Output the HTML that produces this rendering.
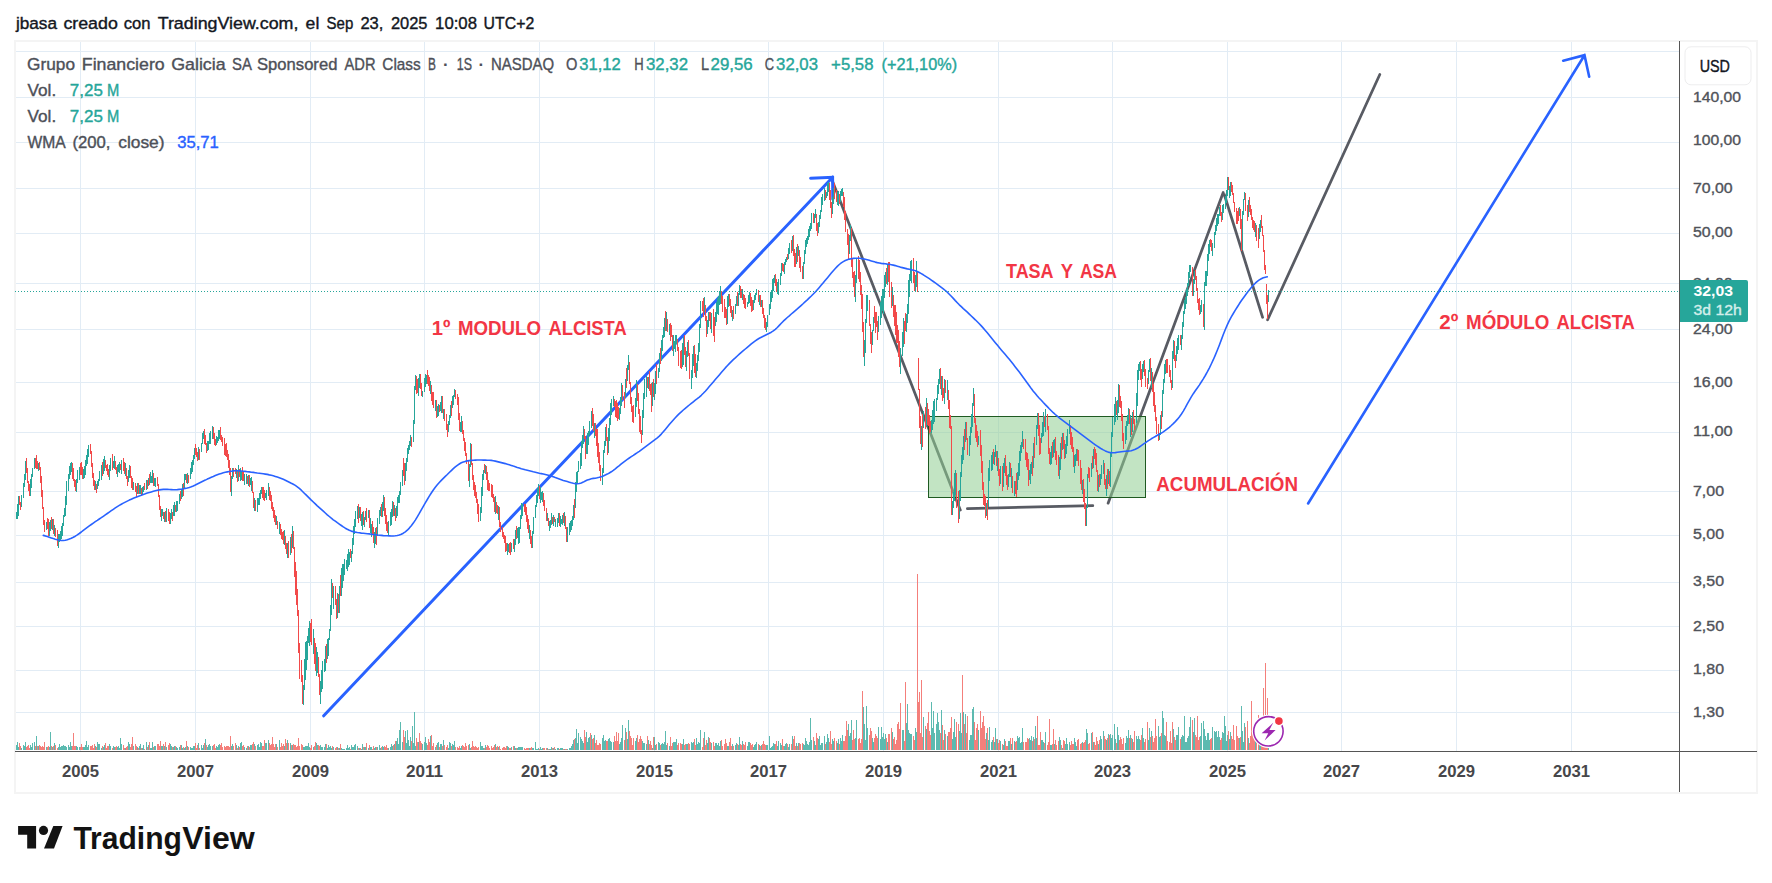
<!DOCTYPE html>
<html lang="es"><head><meta charset="utf-8"><title>GGAL - TradingView</title>
<style>html,body{margin:0;padding:0;background:#fff;}body{width:1772px;height:883px;overflow:hidden;font-family:'Liberation Sans', sans-serif;}svg{display:block}text{white-space:pre}</style>
</head><body>
<svg width="1772" height="883" viewBox="0 0 1772 883" font-family="'Liberation Sans', sans-serif">
<rect x="0" y="0" width="1772" height="883" fill="#fff"/>
<rect x="15" y="41" width="1742" height="752" fill="none" stroke="#f4f4f4" stroke-width="2"/>
<path d="M80.5 42V751M195.5 42V751M310.5 42V751M424.5 42V751M539.5 42V751M654.5 42V751M768.5 42V751M883.5 42V751M998.5 42V751M1112.5 42V751M1227.5 42V751M1341.5 42V751M1456.5 42V751M1571.5 42V751M16 51.5H1679M16 97.5H1679M16 142.5H1679M16 188.5H1679M16 233.5H1679M16 283.5H1679M16 329.5H1679M16 382.5H1679M16 432.5H1679M16 491.5H1679M16 535.5H1679M16 582.5H1679M16 626.5H1679M16 670.5H1679M16 712.5H1679" stroke="#e2ecf5" stroke-width="1" fill="none" shape-rendering="crispEdges"/>
<path d="M832.6 181.5L960.3 510M967.4 508.6L1092.8 505.7M1108.1 503.2L1223.2 192.5M1224.3 194.5L1262.6 317.3M1267.6 319.8L1379.8 74.5" stroke="#585b63" stroke-width="2.75" fill="none" stroke-linecap="round"/>
<rect x="928.5" y="416.5" width="217" height="81" fill="#90ce92" fill-opacity="0.55" stroke="#1f5a22" stroke-width="1"/>
<path d="M323.7 715.8L832.6 177.2M832.8 199.2L832.6 177.2L810.6 178.2" stroke="#2962ff" stroke-width="3.0" fill="none" stroke-linecap="round" stroke-linejoin="miter"/>
<path d="M1308.1 503.5L1584.5 55.2M1589.2 76.7L1584.5 55.2L1563.2 60.7" stroke="#2962ff" stroke-width="2.6" fill="none" stroke-linecap="round" stroke-linejoin="miter"/>
<text y="334.8" font-size="20"><tspan x="431.8" textLength="18.6" lengthAdjust="spacingAndGlyphs" fill="#f23645" font-weight="bold">1º</tspan> <tspan x="457.9" textLength="83.1" lengthAdjust="spacingAndGlyphs" fill="#f23645" font-weight="bold">MODULO</tspan> <tspan x="548.5" textLength="78.2" lengthAdjust="spacingAndGlyphs" fill="#f23645" font-weight="bold">ALCISTA</tspan></text>
<text y="277.8" font-size="20"><tspan x="1006.0" textLength="47.6" lengthAdjust="spacingAndGlyphs" fill="#f23645" font-weight="bold">TASA</tspan> <tspan x="1060.7" textLength="12.3" lengthAdjust="spacingAndGlyphs" fill="#f23645" font-weight="bold">Y</tspan> <tspan x="1079.9" textLength="37.1" lengthAdjust="spacingAndGlyphs" fill="#f23645" font-weight="bold">ASA</tspan></text>
<text y="490.5" font-size="20"><tspan x="1156.3" textLength="141.7" lengthAdjust="spacingAndGlyphs" fill="#f23645" font-weight="bold">ACUMULACIÓN</tspan></text>
<text y="328.8" font-size="20"><tspan x="1439.3" textLength="19.0" lengthAdjust="spacingAndGlyphs" fill="#f23645" font-weight="bold">2º</tspan> <tspan x="1466.0" textLength="83.4" lengthAdjust="spacingAndGlyphs" fill="#f23645" font-weight="bold">MÓDULO</tspan> <tspan x="1556.6" textLength="78.2" lengthAdjust="spacingAndGlyphs" fill="#f23645" font-weight="bold">ALCISTA</tspan></text>
<path d="M16.5 750V744.6M17.5 750V742.0M18.5 750V746.8M21.5 750V747.7M23.5 750V745.0M24.5 750V746.2M25.5 750V742.0M30.5 750V744.9M31.5 750V747.2M32.5 750V742.8M34.5 750V742.0M36.5 750V736.0M38.5 750V745.6M46.5 750V746.8M49.5 750V747.4M50.5 750V732.0M52.5 750V746.6M54.5 750V743.3M58.5 750V746.5M59.5 750V744.4M60.5 750V746.8M61.5 750V745.7M62.5 750V745.9M63.5 750V744.9M64.5 750V746.1M65.5 750V746.1M66.5 750V747.0M68.5 750V745.2M69.5 750V747.1M70.5 750V741.8M71.5 750V745.9M76.5 750V745.9M77.5 750V746.9M79.5 750V747.1M83.5 750V746.5M84.5 750V746.5M85.5 750V744.5M86.5 750V741.0M87.5 750V747.1M88.5 750V744.9M95.5 750V745.5M97.5 750V742.3M98.5 750V744.2M99.5 750V743.5M101.5 750V747.6M103.5 750V746.6M104.5 750V744.7M109.5 750V744.0M110.5 750V746.0M113.5 750V746.2M114.5 750V747.3M117.5 750V746.7M118.5 750V745.5M119.5 750V747.8M120.5 750V738.0M121.5 750V743.5M125.5 750V748.3M128.5 750V741.5M129.5 750V743.5M133.5 750V746.1M137.5 750V747.0M139.5 750V746.3M140.5 750V744.3M142.5 750V748.0M143.5 750V745.3M146.5 750V742.3M148.5 750V745.0M150.5 750V747.9M151.5 750V747.5M152.5 750V741.9M154.5 750V746.4M155.5 750V745.9M161.5 750V746.3M162.5 750V745.8M164.5 750V746.1M166.5 750V747.3M170.5 750V743.7M171.5 750V745.7M173.5 750V747.1M174.5 750V746.4M176.5 750V746.5M177.5 750V747.8M179.5 750V747.1M181.5 750V744.6M182.5 750V747.7M184.5 750V747.9M185.5 750V746.8M187.5 750V745.9M190.5 750V746.8M191.5 750V747.5M192.5 750V748.0M193.5 750V746.0M194.5 750V746.4M198.5 750V743.1M201.5 750V744.7M202.5 750V747.8M203.5 750V744.9M205.5 750V739.0M207.5 750V746.8M208.5 750V745.3M209.5 750V743.5M210.5 750V746.1M212.5 750V746.0M216.5 750V745.6M217.5 750V746.7M218.5 750V744.8M219.5 750V743.6M231.5 750V746.3M232.5 750V744.4M236.5 750V745.1M238.5 750V745.8M240.5 750V743.4M241.5 750V742.1M244.5 750V747.4M246.5 750V748.1M248.5 750V745.8M250.5 750V745.2M251.5 750V744.8M254.5 750V743.6M257.5 750V745.1M258.5 750V744.1M259.5 750V746.9M260.5 750V742.1M261.5 750V743.3M265.5 750V743.4M266.5 750V743.1M268.5 750V740.4M276.5 750V744.0M279.5 750V739.7M284.5 750V746.2M287.5 750V739.9M290.5 750V743.4M292.5 750V745.4M303.5 750V746.7M304.5 750V746.6M305.5 750V746.4M306.5 750V745.8M307.5 750V745.9M308.5 750V743.1M309.5 750V747.1M313.5 750V746.5M316.5 750V743.1M317.5 750V745.2M320.5 750V744.8M321.5 750V747.3M322.5 750V747.4M324.5 750V747.3M325.5 750V744.1M327.5 750V747.6M328.5 750V745.3M329.5 750V747.3M330.5 750V745.7M331.5 750V747.5M333.5 750V747.3M337.5 750V747.0M339.5 750V748.3M341.5 750V747.5M342.5 750V748.6M343.5 750V748.8M344.5 750V749.0M346.5 750V747.7M347.5 750V745.0M348.5 750V748.4M349.5 750V747.4M351.5 750V745.4M352.5 750V746.6M353.5 750V746.6M354.5 750V744.9M355.5 750V744.3M357.5 750V745.5M359.5 750V748.2M361.5 750V748.5M362.5 750V743.8M364.5 750V746.8M365.5 750V746.7M368.5 750V747.5M370.5 750V746.5M371.5 750V747.0M374.5 750V747.6M375.5 750V747.4M377.5 750V746.7M379.5 750V745.0M380.5 750V747.5M382.5 750V746.4M383.5 750V746.7M388.5 750V748.1M390.5 750V746.8M391.5 750V743.8M392.5 750V745.9M394.5 750V743.7M396.5 750V741.3M397.5 750V738.2M398.5 750V744.3M399.5 750V730.0M400.5 750V722.0M402.5 750V742.2M405.5 750V731.3M406.5 750V743.4M407.5 750V730.3M408.5 750V739.6M409.5 750V745.5M410.5 750V736.6M413.5 750V743.4M414.5 750V712.0M415.5 750V745.6M418.5 750V741.8M422.5 750V744.0M424.5 750V741.6M425.5 750V737.1M426.5 750V743.4M430.5 750V736.0M435.5 750V747.0M437.5 750V743.1M438.5 750V741.9M440.5 750V743.5M441.5 750V743.7M443.5 750V740.1M448.5 750V747.8M449.5 750V741.6M450.5 750V743.3M452.5 750V744.3M453.5 750V744.5M454.5 750V740.5M460.5 750V747.6M461.5 750V745.9M469.5 750V743.8M470.5 750V747.5M480.5 750V742.0M481.5 750V746.3M482.5 750V745.5M483.5 750V748.2M485.5 750V745.2M495.5 750V743.5M498.5 750V746.7M507.5 750V745.9M508.5 750V747.3M511.5 750V747.3M514.5 750V745.5M515.5 750V747.9M517.5 750V748.2M518.5 750V746.5M519.5 750V747.4M520.5 750V747.4M521.5 750V747.2M522.5 750V747.4M529.5 750V748.2M532.5 750V748.3M533.5 750V747.8M535.5 750V742.0M536.5 750V748.6M537.5 750V748.9M538.5 750V748.4M540.5 750V747.4M541.5 750V748.8M542.5 750V748.4M547.5 750V747.5M549.5 750V748.5M550.5 750V748.8M551.5 750V747.1M553.5 750V748.0M555.5 750V748.6M557.5 750V748.3M558.5 750V748.1M560.5 750V747.5M561.5 750V747.9M562.5 750V747.7M564.5 750V748.7M567.5 750V749.0M569.5 750V748.4M570.5 750V748.1M571.5 750V746.3M572.5 750V744.2M573.5 750V739.6M575.5 750V738.3M576.5 750V729.3M577.5 750V742.6M578.5 750V733.0M580.5 750V736.5M581.5 750V739.4M582.5 750V740.6M583.5 750V743.1M586.5 750V731.9M587.5 750V742.0M588.5 750V737.6M589.5 750V737.4M591.5 750V734.8M594.5 750V735.4M602.5 750V737.5M603.5 750V734.9M604.5 750V740.8M605.5 750V740.2M608.5 750V739.2M609.5 750V738.2M610.5 750V741.4M611.5 750V742.4M613.5 750V741.6M619.5 750V743.5M620.5 750V742.1M621.5 750V737.6M622.5 750V725.0M625.5 750V728.0M627.5 750V738.5M628.5 750V720.0M635.5 750V741.4M636.5 750V738.0M642.5 750V741.2M643.5 750V743.4M644.5 750V742.5M646.5 750V744.1M648.5 750V740.4M652.5 750V747.6M654.5 750V737.1M655.5 750V745.4M658.5 750V741.5M659.5 750V743.4M661.5 750V743.9M662.5 750V743.2M663.5 750V744.0M664.5 750V742.0M665.5 750V731.0M666.5 750V744.5M669.5 750V746.1M673.5 750V741.8M674.5 750V741.6M675.5 750V742.1M676.5 750V738.5M682.5 750V744.4M683.5 750V738.7M686.5 750V743.8M687.5 750V743.7M691.5 750V742.2M692.5 750V742.9M693.5 750V742.0M696.5 750V737.6M697.5 750V744.4M698.5 750V741.5M699.5 750V743.0M700.5 750V730.0M704.5 750V732.0M707.5 750V743.4M708.5 750V736.8M711.5 750V743.0M715.5 750V743.3M716.5 750V743.4M717.5 750V744.8M718.5 750V743.1M719.5 750V746.4M720.5 750V741.3M727.5 750V745.9M728.5 750V745.8M732.5 750V743.9M735.5 750V744.6M736.5 750V743.3M738.5 750V745.4M739.5 750V737.3M742.5 750V741.1M747.5 750V746.1M748.5 750V742.3M749.5 750V741.5M753.5 750V747.0M754.5 750V744.6M755.5 750V743.7M756.5 750V742.2M759.5 750V745.2M761.5 750V744.5M766.5 750V744.5M767.5 750V745.2M769.5 750V736.0M770.5 750V747.5M771.5 750V746.8M772.5 750V746.3M773.5 750V743.0M774.5 750V744.3M777.5 750V746.0M778.5 750V740.8M780.5 750V743.0M781.5 750V745.4M784.5 750V746.0M785.5 750V744.3M786.5 750V742.8M788.5 750V747.2M789.5 750V744.4M792.5 750V736.4M796.5 750V742.7M798.5 750V743.0M803.5 750V744.0M804.5 750V744.5M805.5 750V737.6M806.5 750V741.2M807.5 750V743.6M808.5 750V744.6M809.5 750V742.1M810.5 750V718.0M811.5 750V739.6M814.5 750V740.8M815.5 750V744.8M818.5 750V738.8M819.5 750V736.3M820.5 750V745.2M821.5 750V742.6M822.5 750V742.9M824.5 750V736.4M826.5 750V742.1M827.5 750V734.1M828.5 750V738.4M832.5 750V738.7M833.5 750V741.2M837.5 750V742.8M838.5 750V739.2M840.5 750V737.5M841.5 750V740.6M842.5 750V734.6M848.5 750V724.0M849.5 750V736.4M850.5 750V733.0M851.5 750V720.0M855.5 750V738.0M856.5 750V720.4M863.5 750V707.0M864.5 750V723.8M865.5 750V739.7M866.5 750V706.0M867.5 750V728.0M872.5 750V737.7M873.5 750V741.5M878.5 750V726.6M880.5 750V739.1M881.5 750V727.4M882.5 750V736.5M883.5 750V733.2M884.5 750V739.4M885.5 750V734.0M887.5 750V741.7M892.5 750V732.3M902.5 750V729.8M903.5 750V730.1M906.5 750V722.5M907.5 750V704.0M908.5 750V729.9M909.5 750V733.3M910.5 750V733.5M911.5 750V734.2M915.5 750V728.3M916.5 750V732.4M923.5 750V717.1M926.5 750V729.4M931.5 750V702.0M932.5 750V727.7M933.5 750V711.1M934.5 750V732.8M936.5 750V724.4M937.5 750V713.0M938.5 750V721.8M939.5 750V730.0M941.5 750V710.2M944.5 750V729.7M947.5 750V736.0M952.5 750V739.0M953.5 750V731.9M954.5 750V719.1M955.5 750V736.7M959.5 750V731.3M960.5 750V713.0M961.5 750V733.3M963.5 750V712.0M965.5 750V713.5M969.5 750V740.4M970.5 750V734.6M971.5 750V735.4M972.5 750V709.2M973.5 750V707.0M978.5 750V729.5M986.5 750V733.3M988.5 750V740.0M989.5 750V727.0M991.5 750V741.5M992.5 750V739.5M994.5 750V742.3M995.5 750V728.2M997.5 750V738.6M1000.5 750V741.0M1003.5 750V744.5M1004.5 750V739.0M1008.5 750V741.3M1009.5 750V740.5M1011.5 750V744.0M1014.5 750V741.4M1017.5 750V736.1M1018.5 750V738.2M1019.5 750V736.7M1020.5 750V742.7M1021.5 750V741.5M1022.5 750V728.0M1029.5 750V737.7M1030.5 750V740.3M1031.5 750V736.2M1033.5 750V737.0M1036.5 750V738.2M1041.5 750V740.1M1042.5 750V740.0M1043.5 750V742.1M1045.5 750V732.1M1050.5 750V744.8M1051.5 750V745.1M1054.5 750V743.6M1059.5 750V736.9M1060.5 750V739.6M1062.5 750V747.6M1065.5 750V744.0M1066.5 750V737.7M1067.5 750V743.5M1069.5 750V742.1M1074.5 750V738.4M1075.5 750V741.6M1076.5 750V745.6M1082.5 750V742.0M1086.5 750V729.0M1087.5 750V732.6M1091.5 750V732.9M1093.5 750V741.7M1098.5 750V744.0M1100.5 750V735.9M1101.5 750V738.7M1103.5 750V730.6M1106.5 750V740.4M1108.5 750V733.6M1110.5 750V733.8M1111.5 750V737.9M1112.5 750V734.8M1114.5 750V724.0M1115.5 750V738.8M1117.5 750V726.7M1118.5 750V734.8M1125.5 750V742.7M1126.5 750V736.3M1127.5 750V737.8M1128.5 750V730.3M1130.5 750V735.1M1132.5 750V738.7M1136.5 750V735.8M1137.5 750V739.3M1138.5 750V735.5M1139.5 750V738.5M1142.5 750V728.3M1143.5 750V737.6M1148.5 750V739.7M1149.5 750V727.9M1151.5 750V731.2M1158.5 750V726.0M1159.5 750V737.1M1160.5 750V736.0M1162.5 750V711.0M1163.5 750V717.8M1164.5 750V735.2M1165.5 750V736.1M1173.5 750V729.1M1176.5 750V734.7M1177.5 750V734.7M1178.5 750V726.7M1181.5 750V736.8M1182.5 750V735.0M1183.5 750V736.2M1184.5 750V716.0M1185.5 750V742.0M1186.5 750V741.7M1187.5 750V738.1M1188.5 750V735.8M1189.5 750V727.4M1190.5 750V716.5M1193.5 750V731.9M1194.5 750V718.2M1200.5 750V735.8M1201.5 750V722.6M1203.5 750V721.0M1204.5 750V728.7M1205.5 750V736.4M1206.5 750V740.0M1207.5 750V732.6M1208.5 750V733.0M1209.5 750V739.7M1212.5 750V726.9M1214.5 750V730.9M1215.5 750V732.4M1216.5 750V730.6M1217.5 750V736.6M1218.5 750V730.7M1219.5 750V737.2M1222.5 750V732.4M1223.5 750V733.2M1225.5 750V725.7M1226.5 750V741.4M1227.5 750V735.0M1229.5 750V738.6M1230.5 750V731.9M1239.5 750V738.1M1241.5 750V706.0M1242.5 750V731.4M1243.5 750V741.7M1244.5 750V722.9M1248.5 750V738.2M1255.5 750V731.3M1259.5 750V738.3M1260.5 750V730.1M1268.5 750V729.8M412.5 750V726.0M1035.5 750V726.0M1224.5 750V716.0" stroke="#5cbab0" stroke-width="1" fill="none" shape-rendering="crispEdges"/>
<path d="M19.5 750V743.1M20.5 750V745.7M26.5 750V746.6M27.5 750V745.8M28.5 750V745.4M29.5 750V748.0M35.5 750V745.9M37.5 750V745.5M39.5 750V744.5M40.5 750V746.3M41.5 750V747.4M42.5 750V746.1M43.5 750V747.1M44.5 750V741.7M47.5 750V746.8M48.5 750V745.9M51.5 750V746.1M53.5 750V746.2M55.5 750V745.1M57.5 750V747.5M72.5 750V746.2M73.5 750V733.0M74.5 750V746.0M75.5 750V745.7M80.5 750V746.8M81.5 750V743.5M82.5 750V746.7M90.5 750V745.6M91.5 750V746.3M92.5 750V744.9M93.5 750V747.5M94.5 750V744.3M96.5 750V747.2M102.5 750V746.3M105.5 750V743.0M106.5 750V748.0M107.5 750V745.9M108.5 750V746.1M112.5 750V747.5M115.5 750V747.0M116.5 750V745.9M123.5 750V744.7M124.5 750V747.6M126.5 750V747.2M127.5 750V746.4M130.5 750V746.8M131.5 750V743.7M132.5 750V737.0M135.5 750V743.8M136.5 750V745.6M138.5 750V747.6M141.5 750V747.7M144.5 750V748.7M147.5 750V746.8M149.5 750V742.2M153.5 750V746.6M157.5 750V744.4M158.5 750V743.8M159.5 750V746.1M160.5 750V741.0M163.5 750V743.8M165.5 750V742.4M168.5 750V745.4M169.5 750V742.5M172.5 750V747.3M175.5 750V745.7M180.5 750V745.2M183.5 750V746.6M186.5 750V741.4M188.5 750V746.5M195.5 750V742.8M196.5 750V747.8M197.5 750V745.2M199.5 750V748.1M204.5 750V742.7M206.5 750V745.3M213.5 750V745.1M214.5 750V744.2M215.5 750V747.7M220.5 750V745.1M221.5 750V742.9M222.5 750V747.1M224.5 750V746.3M225.5 750V747.0M226.5 750V745.5M227.5 750V745.5M228.5 750V745.9M229.5 750V747.3M230.5 750V736.0M233.5 750V746.0M235.5 750V743.0M237.5 750V747.8M239.5 750V747.4M242.5 750V745.5M243.5 750V744.6M247.5 750V746.3M249.5 750V747.4M252.5 750V744.0M253.5 750V741.5M255.5 750V746.0M262.5 750V745.7M263.5 750V746.3M264.5 750V739.7M269.5 750V743.0M270.5 750V744.8M271.5 750V743.7M272.5 750V737.0M273.5 750V743.6M274.5 750V747.3M275.5 750V744.3M277.5 750V747.3M280.5 750V746.9M281.5 750V742.6M282.5 750V746.0M283.5 750V744.4M285.5 750V739.3M286.5 750V742.6M288.5 750V743.2M291.5 750V744.7M293.5 750V743.6M294.5 750V744.6M295.5 750V745.2M296.5 750V747.0M297.5 750V745.5M298.5 750V738.0M299.5 750V745.7M301.5 750V744.2M302.5 750V745.3M310.5 750V748.1M311.5 750V744.5M314.5 750V746.1M315.5 750V741.5M318.5 750V744.6M319.5 750V746.2M326.5 750V744.3M332.5 750V745.9M335.5 750V747.5M336.5 750V747.2M338.5 750V747.7M340.5 750V744.4M350.5 750V748.6M358.5 750V747.6M360.5 750V748.0M363.5 750V747.2M366.5 750V743.4M369.5 750V745.1M372.5 750V748.5M373.5 750V745.5M376.5 750V746.5M381.5 750V746.6M384.5 750V745.8M385.5 750V747.1M386.5 750V744.8M387.5 750V747.5M393.5 750V745.3M395.5 750V741.2M403.5 750V730.0M404.5 750V737.3M411.5 750V741.2M416.5 750V738.2M417.5 750V741.5M419.5 750V733.0M420.5 750V740.9M421.5 750V743.2M427.5 750V744.7M428.5 750V738.9M429.5 750V742.4M431.5 750V735.3M432.5 750V745.9M433.5 750V743.2M436.5 750V744.9M439.5 750V747.0M442.5 750V745.6M444.5 750V745.4M446.5 750V746.7M447.5 750V744.6M451.5 750V746.1M455.5 750V746.5M457.5 750V747.3M458.5 750V748.0M459.5 750V746.1M462.5 750V744.9M463.5 750V746.4M464.5 750V747.0M465.5 750V743.2M466.5 750V746.0M468.5 750V745.3M471.5 750V747.1M472.5 750V741.2M473.5 750V746.2M474.5 750V747.3M475.5 750V746.4M476.5 750V746.9M477.5 750V747.6M478.5 750V746.7M484.5 750V748.0M486.5 750V747.1M487.5 750V744.5M488.5 750V746.2M489.5 750V748.1M491.5 750V746.0M492.5 750V747.8M493.5 750V746.5M494.5 750V745.0M496.5 750V747.1M497.5 750V746.1M499.5 750V746.1M500.5 750V749.0M502.5 750V747.6M503.5 750V746.9M504.5 750V746.7M505.5 750V748.0M506.5 750V746.3M509.5 750V747.6M510.5 750V747.8M513.5 750V746.0M516.5 750V748.3M524.5 750V747.8M525.5 750V748.5M526.5 750V748.3M527.5 750V747.7M528.5 750V747.5M530.5 750V748.2M531.5 750V746.5M539.5 750V748.6M543.5 750V747.6M544.5 750V748.3M546.5 750V747.8M548.5 750V749.0M552.5 750V748.4M554.5 750V746.8M559.5 750V748.6M563.5 750V748.5M565.5 750V748.7M566.5 750V748.7M574.5 750V738.7M584.5 750V730.0M585.5 750V736.5M592.5 750V738.7M593.5 750V737.8M595.5 750V743.4M596.5 750V739.5M597.5 750V744.8M598.5 750V745.2M599.5 750V742.5M600.5 750V744.3M606.5 750V740.6M607.5 750V740.7M614.5 750V736.0M615.5 750V741.2M616.5 750V732.0M617.5 750V740.6M618.5 750V732.6M624.5 750V740.3M626.5 750V732.0M629.5 750V730.6M630.5 750V735.7M631.5 750V737.9M632.5 750V744.5M633.5 750V738.2M637.5 750V735.4M638.5 750V742.3M639.5 750V738.8M640.5 750V735.6M641.5 750V739.2M647.5 750V736.4M649.5 750V744.3M650.5 750V741.1M651.5 750V744.7M653.5 750V736.6M656.5 750V743.9M660.5 750V744.6M667.5 750V742.6M670.5 750V737.4M671.5 750V746.3M672.5 750V743.0M677.5 750V745.4M678.5 750V743.1M680.5 750V742.6M681.5 750V744.2M684.5 750V744.7M685.5 750V744.3M688.5 750V742.8M689.5 750V743.7M694.5 750V738.8M695.5 750V745.2M702.5 750V746.9M703.5 750V738.0M705.5 750V745.2M706.5 750V740.4M709.5 750V737.9M710.5 750V741.7M713.5 750V741.6M714.5 750V746.2M721.5 750V739.9M722.5 750V746.2M724.5 750V743.5M725.5 750V739.0M726.5 750V742.8M729.5 750V741.6M730.5 750V737.9M731.5 750V746.0M733.5 750V745.5M737.5 750V744.1M740.5 750V744.4M741.5 750V744.5M743.5 750V744.1M744.5 750V744.6M745.5 750V741.7M750.5 750V742.6M751.5 750V744.7M752.5 750V744.3M758.5 750V744.1M760.5 750V745.9M762.5 750V744.1M763.5 750V741.1M764.5 750V744.3M765.5 750V745.3M775.5 750V743.7M776.5 750V740.8M782.5 750V739.4M783.5 750V746.4M787.5 750V744.2M791.5 750V743.9M793.5 750V739.4M794.5 750V736.0M795.5 750V745.8M797.5 750V745.8M799.5 750V742.6M800.5 750V744.4M802.5 750V742.7M813.5 750V736.7M816.5 750V732.9M817.5 750V737.5M825.5 750V744.4M829.5 750V742.0M830.5 750V731.2M831.5 750V744.3M834.5 750V738.3M836.5 750V741.2M839.5 750V743.8M843.5 750V740.5M844.5 750V741.0M845.5 750V736.1M847.5 750V730.4M852.5 750V739.8M853.5 750V730.0M854.5 750V739.1M858.5 750V738.8M859.5 750V738.2M860.5 750V743.0M861.5 750V738.9M862.5 750V691.0M869.5 750V734.6M870.5 750V727.7M871.5 750V731.0M874.5 750V738.4M875.5 750V733.7M876.5 750V735.7M877.5 750V737.7M886.5 750V738.0M888.5 750V734.1M889.5 750V734.3M891.5 750V728.2M893.5 750V739.1M894.5 750V737.4M895.5 750V743.7M896.5 750V739.6M897.5 750V724.3M898.5 750V722.2M899.5 750V729.0M900.5 750V703.0M904.5 750V741.2M905.5 750V682.0M913.5 750V736.0M914.5 750V740.2M917.5 750V574.0M918.5 750V702.0M919.5 750V692.0M920.5 750V732.9M921.5 750V680.0M922.5 750V737.4M925.5 750V725.5M927.5 750V722.5M928.5 750V711.7M929.5 750V731.3M930.5 750V734.7M940.5 750V732.7M942.5 750V724.8M943.5 750V739.7M945.5 750V734.3M948.5 750V732.2M949.5 750V731.5M950.5 750V727.5M951.5 750V717.0M956.5 750V722.0M958.5 750V723.6M962.5 750V675.0M964.5 750V723.9M966.5 750V733.2M967.5 750V716.0M974.5 750V721.6M975.5 750V740.3M976.5 750V728.1M977.5 750V724.1M980.5 750V711.0M981.5 750V727.9M982.5 750V722.1M983.5 750V716.3M984.5 750V726.3M985.5 750V739.3M987.5 750V727.8M993.5 750V736.6M996.5 750V739.4M998.5 750V742.5M999.5 750V739.8M1002.5 750V744.3M1005.5 750V740.5M1006.5 750V746.4M1007.5 750V745.7M1010.5 750V737.8M1012.5 750V737.9M1015.5 750V742.1M1016.5 750V740.9M1023.5 750V742.4M1025.5 750V742.0M1026.5 750V742.2M1027.5 750V737.8M1028.5 750V739.1M1032.5 750V740.5M1034.5 750V739.2M1037.5 750V716.0M1038.5 750V744.5M1039.5 750V745.0M1040.5 750V731.9M1044.5 750V743.0M1047.5 750V744.6M1048.5 750V742.0M1049.5 750V719.0M1052.5 750V744.0M1053.5 750V729.0M1055.5 750V739.6M1056.5 750V745.1M1058.5 750V741.2M1061.5 750V745.2M1063.5 750V739.7M1064.5 750V741.0M1070.5 750V744.9M1071.5 750V741.4M1072.5 750V743.5M1073.5 750V743.7M1077.5 750V739.9M1078.5 750V739.3M1080.5 750V744.3M1081.5 750V743.2M1083.5 750V742.8M1084.5 750V741.7M1085.5 750V739.8M1088.5 750V743.9M1089.5 750V743.4M1092.5 750V732.4M1094.5 750V742.4M1095.5 750V744.6M1096.5 750V737.3M1097.5 750V741.2M1099.5 750V740.3M1104.5 750V735.7M1105.5 750V738.8M1107.5 750V737.6M1109.5 750V735.4M1116.5 750V742.6M1119.5 750V739.6M1120.5 750V736.5M1121.5 750V738.7M1122.5 750V743.5M1123.5 750V738.3M1129.5 750V737.7M1131.5 750V738.4M1133.5 750V742.3M1134.5 750V730.8M1140.5 750V739.7M1141.5 750V735.0M1144.5 750V742.0M1145.5 750V739.0M1147.5 750V722.0M1150.5 750V737.1M1152.5 750V736.3M1153.5 750V742.1M1154.5 750V737.7M1155.5 750V718.6M1156.5 750V736.2M1161.5 750V733.3M1166.5 750V722.0M1167.5 750V740.9M1169.5 750V741.9M1170.5 750V730.7M1171.5 750V742.6M1172.5 750V722.0M1174.5 750V736.5M1175.5 750V740.2M1180.5 750V738.5M1192.5 750V720.2M1195.5 750V735.1M1196.5 750V737.2M1197.5 750V716.1M1198.5 750V739.6M1199.5 750V736.6M1210.5 750V738.5M1211.5 750V738.2M1220.5 750V740.2M1221.5 750V737.6M1228.5 750V731.0M1231.5 750V735.9M1232.5 750V739.3M1233.5 750V724.7M1234.5 750V740.2M1236.5 750V725.8M1237.5 750V735.8M1238.5 750V738.4M1240.5 750V737.4M1245.5 750V726.6M1247.5 750V721.0M1249.5 750V742.9M1250.5 750V736.3M1251.5 750V701.0M1252.5 750V730.4M1253.5 750V735.6M1254.5 750V732.9M1256.5 750V740.1M1258.5 750V714.6M1261.5 750V722.8M1262.5 750V736.5M1263.5 750V688.0M1264.5 750V716.0M1265.5 750V663.0M1266.5 750V722.6M1267.5 750V698.0M590.5 750V733.0M846.5 750V721.0" stroke="#f47f7b" stroke-width="1" fill="none" shape-rendering="crispEdges"/>
<path d="M16.5 512.4V519.0M17.5 504.2V519.2M18.5 495.8V516.1M21.5 495.2V507.0M23.5 482.9V498.1M24.5 474.2V486.9M25.5 460.5V479.8M30.5 479.2V496.4M31.5 474.3V488.4M32.5 467.8V477.0M34.5 457.9V468.7M38.5 462.8V471.0M46.5 521.7V529.9M49.5 522.1V535.7M50.5 520.4V530.6M52.5 519.3V529.6M54.5 524.9V536.0M58.5 534.4V547.6M59.5 534.0V542.2M60.5 530.8V540.7M61.5 526.1V539.3M62.5 523.4V535.6M63.5 515.3V525.6M64.5 508.2V517.3M65.5 496.4V515.8M66.5 481.1V504.5M68.5 473.8V490.8M69.5 466.3V478.7M70.5 463.2V475.0M71.5 461.7V472.4M76.5 479.2V492.0M77.5 469.7V482.6M79.5 466.7V480.3M83.5 469.2V478.5M84.5 465.7V477.8M85.5 459.7V475.0M86.5 455.1V466.3M87.5 449.1V464.2M88.5 444.6V457.3M95.5 481.1V490.4M97.5 480.9V489.4M98.5 479.1V486.3M99.5 471.2V480.8M101.5 465.3V480.2M103.5 458.6V474.1M104.5 456.4V471.4M109.5 464.9V479.6M110.5 458.0V471.4M113.5 460.8V468.1M114.5 456.1V468.6M117.5 464.9V477.2M118.5 464.2V472.0M119.5 462.1V472.6M121.5 459.8V474.2M125.5 463.3V476.0M128.5 469.7V481.9M129.5 465.0V478.4M133.5 482.2V489.9M137.5 482.6V494.3M139.5 485.3V494.1M140.5 484.7V493.6M142.5 487.3V494.2M143.5 485.6V491.9M146.5 480.3V490.4M148.5 478.0V485.6M150.5 472.0V482.7M151.5 475.5V483.3M152.5 469.6V483.4M154.5 478.2V486.0M155.5 477.8V487.2M161.5 508.9V521.4M162.5 509.4V516.3M164.5 512.1V521.7M166.5 508.1V521.9M170.5 512.9V524.2M171.5 508.5V518.8M173.5 505.0V516.2M174.5 501.7V516.0M176.5 501.0V512.1M177.5 501.3V511.4M179.5 494.0V503.6M181.5 488.9V498.6M182.5 484.4V496.8M184.5 474.0V489.4M185.5 474.2V480.3M187.5 473.0V484.0M190.5 467.7V478.6M191.5 462.4V474.2M192.5 460.4V471.9M193.5 454.8V464.9M194.5 448.1V458.9M198.5 446.9V459.7M201.5 442.6V452.0M202.5 433.0V444.0M203.5 431.1V438.6M207.5 441.2V450.5M208.5 440.9V450.4M209.5 433.3V443.5M210.5 430.5V443.6M212.5 425.6V438.7M216.5 435.5V445.4M217.5 437.3V442.5M218.5 429.9V441.0M219.5 429.8V438.7M231.5 476.0V496.1M232.5 467.8V478.8M236.5 469.1V478.1M238.5 464.7V481.4M240.5 467.7V480.8M241.5 470.8V480.1M244.5 473.7V484.5M246.5 473.5V483.7M248.5 474.8V485.6M250.5 477.8V484.5M251.5 477.3V491.1M254.5 497.9V510.8M257.5 498.2V512.2M258.5 498.2V505.2M259.5 492.8V504.7M260.5 490.0V499.3M261.5 486.6V493.6M265.5 492.9V498.3M266.5 489.7V500.4M268.5 482.9V496.3M276.5 516.4V524.5M279.5 522.1V533.8M284.5 529.9V545.3M287.5 542.6V558.3M290.5 537.2V554.5M292.5 526.0V548.1M303.5 685.1V704.5M304.5 658.5V689.7M305.5 641.5V680.0M306.5 640.8V669.7M307.5 636.4V660.3M308.5 627.7V642.5M309.5 621.2V646.1M313.5 628.7V654.2M316.5 647.4V675.6M317.5 652.2V672.8M320.5 680.7V704.4M321.5 669.7V692.3M322.5 660.8V689.2M324.5 659.0V671.9M325.5 645.6V671.2M327.5 639.4V659.3M328.5 638.2V655.6M329.5 628.8V639.7M330.5 604.7V631.4M331.5 579.3V614.6M333.5 585.7V608.8M337.5 592.7V618.4M339.5 585.6V613.0M341.5 568.0V596.1M342.5 563.9V587.9M343.5 563.5V581.4M344.5 559.4V575.2M346.5 560.2V569.1M347.5 554.2V571.3M348.5 549.4V566.8M349.5 552.2V565.1M351.5 550.9V561.6M352.5 538.4V554.3M353.5 526.1V545.1M354.5 518.9V533.6M355.5 511.2V526.7M357.5 505.6V518.5M359.5 507.2V518.3M361.5 514.3V525.8M362.5 511.9V530.4M364.5 516.5V526.6M365.5 510.8V519.8M368.5 509.8V518.3M370.5 517.9V533.4M371.5 523.5V536.6M374.5 531.9V547.8M375.5 528.2V543.9M377.5 517.7V536.2M379.5 509.6V524.0M380.5 506.6V515.7M382.5 501.6V516.8M383.5 495.1V510.7M388.5 521.2V535.1M390.5 511.7V526.0M391.5 509.4V524.6M392.5 501.3V516.6M394.5 505.4V515.9M396.5 506.4V518.2M397.5 497.1V515.7M398.5 494.7V503.2M399.5 490.8V503.1M400.5 481.6V494.9M402.5 470.4V486.4M405.5 463.2V480.7M406.5 457.6V470.6M407.5 447.8V461.5M408.5 444.6V454.2M409.5 440.5V450.1M410.5 435.2V445.6M413.5 420.3V442.3M414.5 385.7V423.8M415.5 374.6V389.7M418.5 378.2V395.6M419.5 373.6V387.7M422.5 390.5V397.0M424.5 377.5V391.8M425.5 373.8V387.1M426.5 374.5V384.2M430.5 381.1V393.7M435.5 399.6V411.1M437.5 406.3V417.4M438.5 403.7V415.5M440.5 402.1V411.0M441.5 396.4V413.0M443.5 409.1V419.4M448.5 421.0V432.3M449.5 414.9V425.3M450.5 404.9V418.0M452.5 395.6V408.4M453.5 394.9V405.3M454.5 389.0V397.2M460.5 422.2V431.8M461.5 416.4V431.5M469.5 463.9V486.6M470.5 443.1V467.1M480.5 507.2V520.6M481.5 486.6V513.3M482.5 474.3V495.9M483.5 469.5V480.4M485.5 464.7V474.3M495.5 496.1V514.4M498.5 506.1V519.7M507.5 543.4V555.1M508.5 544.2V552.1M511.5 543.0V552.4M514.5 538.5V551.9M515.5 530.3V544.6M517.5 527.6V537.5M518.5 526.9V543.9M519.5 527.0V543.3M520.5 514.5V529.1M521.5 503.3V518.6M522.5 503.6V515.6M529.5 525.0V538.7M532.5 531.2V548.4M533.5 517.0V534.3M535.5 504.5V517.7M536.5 495.0V507.3M537.5 487.9V503.2M538.5 484.1V496.1M540.5 487.4V503.2M541.5 492.0V500.3M542.5 490.9V501.5M547.5 512.9V520.5M549.5 520.6V530.8M550.5 520.4V527.9M551.5 512.9V524.5M553.5 514.6V525.7M555.5 519.0V526.8M557.5 518.4V526.6M558.5 512.5V523.3M560.5 516.3V527.3M561.5 518.7V524.0M562.5 515.4V525.2M564.5 511.6V526.1M567.5 527.0V541.5M569.5 522.5V535.2M570.5 520.5V531.9M571.5 519.6V529.9M572.5 516.4V526.3M573.5 505.1V520.4M575.5 482.1V508.4M576.5 472.2V492.0M577.5 471.2V483.3M578.5 461.3V472.3M580.5 452.8V468.7M581.5 441.2V465.8M582.5 434.5V447.6M583.5 425.9V443.8M586.5 438.9V454.2M587.5 433.1V454.1M588.5 430.8V444.7M589.5 420.9V435.0M591.5 410.7V427.8M594.5 423.0V437.6M602.5 467.5V484.5M603.5 449.6V472.7M604.5 440.8V453.3M605.5 427.2V445.9M608.5 427.7V452.8M609.5 417.7V440.5M610.5 403.4V424.7M611.5 399.2V414.7M613.5 396.1V405.7M619.5 408.2V420.1M620.5 397.0V413.5M621.5 383.1V405.8M625.5 379.4V398.0M627.5 365.1V381.2M628.5 355.3V370.0M635.5 397.9V417.1M636.5 379.8V407.3M642.5 409.5V435.2M643.5 393.3V417.5M644.5 379.4V398.6M646.5 376.2V397.4M648.5 377.4V388.5M652.5 382.0V406.4M654.5 382.9V399.5M655.5 371.0V394.2M658.5 367.5V378.3M659.5 353.1V372.3M661.5 340.4V360.8M662.5 335.4V350.8M663.5 326.9V338.4M664.5 318.3V336.6M666.5 312.4V331.3M669.5 324.4V335.0M673.5 335.1V356.0M674.5 340.7V349.0M675.5 335.2V351.9M676.5 334.8V344.0M682.5 343.3V367.4M683.5 336.7V365.1M686.5 351.0V371.3M687.5 342.0V357.1M691.5 369.9V388.9M692.5 354.1V377.8M693.5 345.9V366.0M696.5 363.4V377.6M697.5 354.9V371.1M698.5 343.4V360.8M699.5 323.9V352.1M700.5 300.9V328.0M704.5 296.5V311.8M707.5 320.3V334.2M708.5 312.1V327.0M711.5 312.7V332.9M715.5 311.6V325.9M716.5 302.1V321.9M717.5 298.3V314.2M718.5 295.6V315.3M719.5 290.7V305.0M720.5 286.0V303.9M727.5 296.4V324.0M728.5 294.2V306.7M732.5 310.0V321.0M735.5 303.9V313.7M736.5 295.6V306.4M738.5 293.2V305.6M739.5 285.3V295.3M742.5 288.8V300.3M747.5 301.6V306.8M748.5 294.9V304.1M749.5 292.3V302.5M753.5 300.2V310.1M754.5 295.3V302.6M755.5 292.8V300.2M756.5 289.3V294.5M759.5 294.8V304.9M761.5 300.0V307.1M766.5 322.4V332.2M767.5 314.8V327.3M769.5 304.2V315.3M770.5 292.3V309.3M771.5 289.8V301.5M772.5 278.8V298.1M773.5 277.7V290.5M774.5 275.0V283.4M777.5 282.1V294.1M778.5 278.7V295.0M780.5 273.0V284.6M781.5 262.5V276.2M784.5 262.4V273.6M785.5 258.6V264.7M786.5 256.5V262.4M788.5 247.7V259.2M789.5 243.0V254.0M792.5 235.7V251.3M796.5 247.4V264.4M798.5 246.2V256.2M803.5 261.5V278.8M804.5 249.7V263.8M805.5 240.2V253.7M806.5 238.3V247.3M807.5 235.8V244.3M808.5 229.1V239.9M809.5 226.1V236.7M810.5 223.1V230.6M811.5 213.4V228.5M814.5 213.8V223.2M815.5 208.6V217.8M818.5 221.5V233.3M819.5 215.3V227.1M820.5 209.7V218.6M821.5 197.0V211.7M822.5 193.7V204.6M824.5 187.7V201.0M826.5 191.6V198.4M827.5 183.3V195.7M828.5 181.7V191.7M832.5 196.5V213.7M833.5 187.8V204.2M837.5 191.7V205.3M838.5 190.9V206.3M840.5 191.4V202.3M841.5 188.7V195.6M842.5 187.9V196.1M849.5 235.1V254.4M850.5 225.3V240.5M855.5 275.1V302.4M856.5 257.6V282.9M864.5 339.5V365.6M865.5 319.4V352.8M866.5 295.2V323.4M867.5 294.6V311.3M872.5 329.5V345.4M873.5 317.4V331.4M878.5 315.7V331.5M880.5 302.4V325.2M881.5 295.9V317.7M882.5 289.3V311.2M883.5 288.9V314.4M884.5 274.5V297.8M885.5 271.7V287.2M887.5 264.0V284.7M892.5 287.0V305.6M900.5 348.4V373.8M902.5 331.9V355.8M903.5 318.4V347.3M906.5 314.3V331.8M907.5 304.4V323.4M908.5 279.6V313.5M909.5 274.3V297.3M910.5 261.4V281.1M911.5 260.0V283.1M915.5 275.2V290.6M916.5 260.5V286.6M921.5 425.9V449.9M923.5 411.0V428.0M926.5 398.4V426.5M931.5 420.1V433.0M932.5 409.9V430.2M933.5 401.4V424.3M934.5 398.6V421.5M936.5 398.3V411.2M937.5 384.9V400.4M938.5 379.2V394.2M939.5 368.6V383.8M941.5 376.2V394.5M944.5 378.8V403.8M947.5 379.9V399.9M952.5 500.7V515.4M953.5 492.1V507.9M954.5 473.4V500.8M955.5 470.1V494.7M959.5 489.8V519.3M960.5 471.5V500.9M961.5 454.7V476.5M962.5 446.8V464.1M963.5 436.4V460.2M965.5 422.0V441.6M969.5 436.2V456.2M970.5 426.7V444.7M971.5 413.7V433.4M972.5 402.8V426.8M973.5 387.6V406.2M978.5 435.7V445.0M986.5 503.3V515.7M988.5 468.4V507.4M989.5 459.8V480.7M991.5 455.2V471.0M992.5 451.7V470.0M994.5 451.5V464.9M995.5 444.6V457.1M997.5 450.6V470.8M1000.5 466.4V484.0M1003.5 462.8V486.7M1004.5 458.1V473.3M1008.5 473.7V486.9M1009.5 462.3V476.6M1011.5 468.0V488.1M1014.5 480.9V495.5M1017.5 471.7V490.3M1018.5 463.1V480.2M1019.5 451.4V476.2M1020.5 445.2V461.4M1021.5 441.6V452.5M1022.5 430.5V447.4M1029.5 469.6V480.1M1030.5 464.1V483.7M1031.5 462.3V474.3M1033.5 442.7V467.8M1036.5 425.4V444.6M1037.5 413.0V429.0M1041.5 432.7V443.4M1042.5 422.3V437.0M1043.5 412.0V436.1M1045.5 408.7V431.6M1050.5 451.7V464.5M1051.5 445.8V463.6M1053.5 439.8V457.0M1054.5 438.5V452.8M1059.5 457.4V478.9M1060.5 443.2V469.8M1062.5 433.1V449.5M1065.5 443.6V457.8M1066.5 435.7V454.1M1067.5 428.8V446.3M1069.5 419.8V433.5M1074.5 455.3V473.4M1075.5 454.0V465.9M1076.5 449.0V461.2M1082.5 480.2V494.2M1086.5 506.8V526.1M1087.5 473.5V508.2M1091.5 462.9V477.4M1093.5 449.0V468.4M1098.5 475.2V491.6M1100.5 473.5V485.0M1101.5 464.9V479.2M1103.5 460.1V473.6M1106.5 475.3V495.9M1108.5 468.8V484.0M1110.5 453.1V486.5M1111.5 431.9V457.4M1112.5 417.4V437.4M1114.5 404.4V424.8M1115.5 397.2V421.5M1117.5 399.7V419.5M1118.5 383.8V413.2M1125.5 426.3V444.2M1126.5 421.3V440.2M1127.5 414.7V425.8M1128.5 407.8V424.1M1130.5 414.6V437.4M1132.5 412.3V431.8M1136.5 393.0V422.6M1137.5 370.3V406.0M1138.5 364.2V380.2M1139.5 362.4V370.7M1142.5 364.0V379.1M1143.5 361.3V372.1M1148.5 369.7V383.6M1149.5 359.1V372.0M1151.5 368.1V388.2M1159.5 432.9V440.1M1160.5 414.8V435.1M1162.5 390.1V417.2M1163.5 379.0V394.1M1164.5 364.0V382.6M1165.5 359.5V373.6M1172.5 350.8V388.4M1173.5 340.2V358.6M1176.5 346.1V360.6M1177.5 337.5V353.7M1178.5 335.2V349.7M1181.5 335.2V349.5M1182.5 322.0V338.5M1183.5 310.5V327.2M1184.5 299.9V313.8M1185.5 296.8V308.5M1186.5 288.6V303.8M1187.5 282.7V295.7M1188.5 271.9V285.8M1189.5 264.7V278.0M1190.5 264.9V272.0M1193.5 279.1V295.5M1194.5 271.4V284.0M1200.5 304.5V314.4M1201.5 299.9V312.4M1204.5 281.7V329.6M1205.5 271.3V286.1M1206.5 270.5V285.8M1207.5 254.2V276.4M1208.5 244.0V260.8M1209.5 239.9V254.0M1212.5 242.7V255.7M1214.5 232.0V247.7M1215.5 224.7V234.9M1216.5 217.9V230.8M1217.5 213.6V225.5M1218.5 214.1V223.9M1219.5 207.2V216.4M1222.5 204.7V220.1M1223.5 203.5V212.8M1225.5 195.9V209.3M1226.5 189.5V203.3M1227.5 176.8V196.2M1229.5 186.1V197.6M1230.5 181.7V195.8M1239.5 206.5V216.2M1242.5 211.2V250.2M1243.5 198.7V214.6M1244.5 192.0V200.2M1248.5 199.6V216.9M1255.5 223.1V236.6M1259.5 224.1V239.2M1260.5 219.6V232.0M1268.5 290.0V301.9" stroke="#26a69a" stroke-width="1" fill="none" shape-rendering="crispEdges"/>
<path d="M19.5 496.4V504.5M20.5 501.9V509.7M26.5 458.0V473.2M27.5 467.5V483.0M28.5 480.5V491.4M29.5 484.3V496.3M35.5 458.1V467.6M36.5 455.2V468.6M37.5 461.2V469.3M39.5 461.5V470.4M40.5 467.1V483.2M41.5 476.0V497.2M42.5 490.0V509.1M43.5 506.8V524.5M44.5 519.5V532.3M47.5 518.1V529.4M48.5 519.4V536.4M51.5 517.2V529.4M53.5 519.4V533.8M55.5 527.6V537.1M57.5 530.3V545.6M72.5 463.3V478.7M73.5 467.9V480.7M74.5 479.4V486.5M75.5 480.0V490.5M80.5 462.6V474.9M81.5 461.8V474.9M82.5 466.6V478.5M90.5 443.8V453.6M91.5 450.5V466.9M92.5 462.7V478.3M93.5 472.9V486.4M94.5 480.1V489.6M96.5 484.1V493.1M102.5 461.8V476.4M105.5 459.6V467.9M106.5 465.0V470.9M107.5 464.2V474.6M108.5 469.4V477.1M112.5 453.9V470.2M115.5 460.7V469.8M116.5 467.2V474.3M120.5 464.1V470.2M123.5 458.1V470.7M124.5 461.6V473.5M126.5 467.6V479.4M127.5 475.6V486.0M130.5 465.9V478.0M131.5 475.8V488.4M132.5 477.9V489.7M135.5 482.7V492.2M136.5 485.7V496.6M138.5 482.6V493.7M141.5 487.5V495.3M144.5 483.0V489.5M147.5 480.1V488.7M149.5 474.0V485.0M153.5 472.8V486.0M157.5 477.4V486.1M158.5 483.9V497.4M159.5 495.1V510.3M160.5 506.2V517.2M163.5 511.5V518.9M165.5 511.3V521.8M168.5 508.9V521.2M169.5 511.5V523.9M172.5 512.0V520.5M175.5 504.7V511.6M180.5 491.4V500.7M183.5 482.9V496.0M186.5 473.9V483.1M188.5 475.4V482.8M195.5 443.9V454.8M196.5 448.2V456.5M197.5 451.7V460.9M199.5 448.6V460.1M204.5 429.3V443.9M205.5 435.4V445.2M206.5 443.2V452.7M213.5 427.3V438.9M214.5 432.7V445.3M215.5 438.7V445.7M220.5 426.7V439.7M221.5 434.6V442.4M222.5 436.7V446.1M224.5 438.3V455.1M225.5 444.1V455.8M226.5 442.7V456.6M227.5 450.0V459.6M228.5 454.1V467.5M229.5 459.6V474.9M230.5 468.2V492.4M233.5 468.3V476.8M235.5 468.0V474.1M237.5 471.2V481.6M239.5 469.0V476.6M242.5 467.3V481.2M243.5 472.4V480.8M247.5 476.2V483.9M249.5 474.8V486.9M252.5 481.4V493.3M253.5 491.7V507.8M255.5 499.6V511.4M262.5 487.0V497.9M263.5 487.4V499.7M264.5 490.2V500.9M269.5 487.2V500.2M270.5 490.6V501.4M271.5 494.8V508.5M272.5 501.7V511.1M273.5 506.5V517.8M274.5 510.0V522.0M275.5 515.1V524.5M277.5 520.6V529.1M280.5 524.3V535.3M281.5 528.9V538.7M282.5 531.9V539.7M283.5 531.2V544.3M285.5 535.9V548.6M286.5 543.0V554.4M288.5 540.7V558.1M291.5 533.7V552.5M293.5 531.2V548.6M294.5 547.4V577.4M295.5 562.1V594.5M296.5 570.6V604.9M297.5 588.5V615.7M298.5 610.1V653.3M299.5 642.6V678.9M301.5 659.9V682.0M302.5 674.8V704.0M310.5 623.1V642.1M311.5 619.1V644.8M314.5 638.4V664.1M315.5 643.3V670.6M318.5 657.2V677.1M319.5 674.1V694.8M326.5 644.4V663.3M332.5 582.7V597.9M335.5 585.7V604.5M336.5 598.7V618.7M338.5 593.7V613.4M340.5 575.2V596.0M350.5 549.1V558.0M358.5 503.6V523.0M360.5 507.3V521.1M363.5 510.7V525.3M366.5 508.2V522.4M369.5 510.1V527.8M372.5 521.4V534.9M373.5 527.4V542.7M376.5 526.8V545.1M381.5 504.1V516.8M384.5 497.2V515.7M385.5 508.4V524.4M386.5 515.4V531.1M387.5 522.3V532.7M393.5 501.5V516.0M395.5 507.9V521.3M403.5 457.5V476.0M404.5 463.2V485.3M411.5 436.8V446.5M416.5 375.8V393.6M417.5 379.4V392.6M420.5 373.5V388.9M421.5 382.7V396.4M427.5 370.0V383.6M428.5 374.7V386.4M429.5 377.4V391.2M431.5 384.7V400.9M432.5 392.2V405.0M433.5 392.4V407.9M436.5 400.2V417.8M439.5 405.3V411.7M442.5 396.4V413.3M444.5 408.9V420.6M446.5 413.6V429.8M447.5 424.3V436.5M451.5 400.8V416.3M455.5 389.6V398.7M457.5 393.9V405.2M458.5 396.5V420.4M459.5 412.8V430.6M462.5 420.6V433.5M463.5 429.8V440.6M464.5 437.9V450.9M465.5 442.2V456.3M466.5 452.5V464.4M468.5 460.3V481.4M471.5 443.5V465.2M472.5 462.5V479.8M473.5 475.0V489.9M474.5 481.5V495.6M475.5 485.3V497.9M476.5 491.7V502.8M477.5 499.0V514.4M478.5 504.4V521.6M484.5 464.4V472.9M486.5 465.7V479.9M487.5 472.4V490.3M488.5 480.4V490.7M489.5 483.0V491.1M491.5 484.4V497.4M492.5 485.3V498.3M493.5 493.8V502.0M494.5 497.0V512.2M496.5 502.3V512.9M497.5 504.6V513.8M499.5 506.7V527.0M500.5 522.4V531.6M502.5 526.8V537.1M503.5 531.8V538.7M504.5 535.2V542.5M505.5 536.3V551.6M506.5 542.8V550.6M509.5 542.6V552.5M510.5 541.6V554.7M513.5 538.6V548.6M516.5 526.3V538.8M524.5 504.2V511.7M525.5 504.4V515.2M526.5 506.9V522.0M527.5 514.7V529.0M528.5 518.6V533.0M530.5 529.8V543.9M531.5 535.8V548.1M539.5 485.8V499.0M543.5 492.9V505.5M544.5 500.4V510.9M546.5 507.9V520.7M548.5 518.4V526.1M552.5 517.3V524.2M554.5 516.7V522.4M559.5 512.7V525.6M563.5 513.0V522.7M565.5 516.0V529.0M566.5 527.0V541.5M574.5 499.3V518.3M584.5 429.0V438.7M585.5 436.4V459.3M592.5 408.0V426.2M593.5 413.5V430.8M595.5 423.3V435.9M596.5 428.8V446.3M597.5 428.5V457.0M598.5 443.2V463.2M599.5 452.0V471.2M600.5 465.3V480.9M606.5 423.7V441.1M607.5 437.1V454.5M614.5 398.7V407.2M615.5 401.4V417.0M616.5 400.2V417.8M617.5 402.8V420.6M618.5 406.5V418.6M622.5 384.9V399.7M624.5 392.0V407.9M626.5 367.6V388.2M629.5 362.1V384.0M630.5 382.3V403.8M631.5 396.9V412.0M632.5 405.6V421.6M633.5 404.6V423.2M637.5 384.4V401.3M638.5 393.1V414.2M639.5 408.9V431.7M640.5 416.2V433.6M641.5 430.0V443.4M647.5 377.0V388.2M649.5 371.4V391.0M650.5 383.7V395.3M651.5 382.9V411.9M653.5 379.0V396.5M656.5 364.1V383.7M660.5 347.6V364.3M665.5 311.2V330.8M667.5 319.4V332.4M670.5 323.3V341.1M671.5 325.1V337.2M672.5 334.5V350.7M677.5 339.4V350.5M678.5 347.3V366.0M680.5 351.1V367.6M681.5 350.3V368.7M684.5 335.3V354.8M685.5 347.4V367.3M688.5 339.8V356.2M689.5 352.5V379.1M694.5 345.4V373.1M695.5 354.0V377.1M702.5 300.5V310.5M703.5 298.2V317.2M705.5 304.8V321.1M706.5 315.9V336.8M709.5 311.6V320.8M710.5 312.4V328.6M713.5 308.5V336.0M714.5 317.2V341.8M721.5 290.6V304.4M722.5 296.4V312.0M724.5 299.1V317.9M725.5 306.6V318.3M726.5 308.8V325.0M729.5 294.0V305.9M730.5 298.9V312.9M731.5 306.1V316.6M733.5 306.3V318.5M737.5 292.3V305.5M740.5 286.4V297.6M741.5 288.6V297.8M743.5 293.7V303.7M744.5 294.9V308.4M745.5 298.0V309.1M750.5 292.5V306.3M751.5 297.0V312.3M752.5 299.9V310.8M758.5 289.6V302.3M760.5 295.0V306.7M762.5 300.4V314.3M763.5 307.9V317.7M764.5 315.3V327.8M765.5 317.8V329.8M775.5 273.8V286.2M776.5 279.0V291.8M782.5 262.5V271.4M783.5 263.9V271.6M787.5 253.8V259.5M791.5 239.7V253.2M793.5 235.3V256.2M794.5 248.9V267.3M795.5 253.4V266.9M797.5 243.8V261.7M799.5 249.9V267.9M800.5 256.5V271.7M802.5 266.0V278.9M813.5 213.0V223.4M816.5 214.3V231.2M817.5 223.3V235.9M825.5 190.4V199.9M829.5 182.8V200.4M830.5 190.0V207.7M831.5 201.8V218.4M834.5 183.1V199.3M836.5 190.1V202.1M839.5 194.4V203.6M843.5 191.9V206.5M844.5 196.6V219.8M845.5 210.5V231.9M847.5 228.5V244.5M848.5 234.0V258.6M851.5 227.9V266.9M852.5 259.0V278.2M853.5 271.7V286.9M854.5 271.1V297.4M858.5 256.1V279.1M859.5 259.8V282.1M860.5 272.0V295.1M861.5 285.2V308.6M862.5 293.8V332.0M863.5 321.8V357.3M869.5 299.6V325.6M870.5 323.9V343.6M871.5 332.0V352.5M874.5 305.6V323.0M875.5 312.0V333.3M876.5 311.8V327.4M877.5 321.3V340.2M886.5 268.3V284.0M888.5 262.1V281.9M889.5 261.7V297.1M891.5 282.2V307.6M893.5 294.6V317.3M894.5 304.9V325.7M895.5 304.9V334.7M896.5 312.4V343.0M897.5 325.0V343.3M898.5 329.9V356.6M899.5 340.6V367.0M904.5 321.4V344.1M905.5 313.2V330.6M913.5 258.0V283.1M914.5 272.1V291.0M917.5 272.4V291.6M918.5 358.0V389.5M919.5 388.6V428.0M920.5 416.2V444.3M922.5 413.7V447.1M925.5 406.8V429.3M927.5 403.2V424.5M928.5 409.4V426.3M929.5 415.3V433.0M930.5 421.2V432.1M940.5 367.8V389.0M942.5 376.0V401.2M943.5 388.2V398.0M945.5 380.2V392.6M948.5 389.9V408.9M949.5 400.3V427.9M950.5 414.9V429.1M951.5 426.4V515.4M956.5 473.2V508.0M958.5 491.2V523.1M964.5 429.4V449.5M966.5 421.7V439.8M967.5 437.6V454.7M974.5 393.5V423.2M975.5 417.7V438.1M976.5 425.1V442.0M977.5 430.5V446.6M980.5 429.9V456.1M981.5 445.0V473.0M982.5 461.3V490.1M983.5 481.9V505.0M984.5 493.6V506.4M985.5 496.0V517.5M987.5 500.3V519.7M993.5 449.2V463.8M996.5 450.8V465.5M998.5 457.6V476.4M999.5 469.0V486.0M1002.5 465.8V490.6M1005.5 454.5V475.8M1006.5 466.1V485.3M1007.5 474.9V489.7M1010.5 462.5V477.4M1012.5 475.6V493.1M1015.5 480.6V494.3M1016.5 472.7V497.1M1023.5 438.8V448.9M1025.5 438.8V460.0M1026.5 452.0V467.4M1027.5 452.7V469.9M1028.5 458.9V485.8M1032.5 456.2V475.6M1034.5 437.2V457.5M1038.5 412.8V436.0M1039.5 424.6V455.2M1040.5 438.1V454.3M1044.5 415.9V427.1M1047.5 414.3V430.2M1048.5 425.9V454.2M1049.5 447.9V463.7M1052.5 441.6V457.6M1055.5 437.0V459.8M1056.5 450.5V464.7M1058.5 454.6V476.4M1061.5 436.6V458.9M1063.5 432.5V449.0M1064.5 440.4V459.2M1070.5 424.6V445.2M1071.5 432.2V448.6M1072.5 437.0V451.7M1073.5 446.8V466.9M1077.5 448.9V460.9M1078.5 450.1V466.1M1080.5 459.8V483.5M1081.5 467.8V489.5M1083.5 479.1V501.7M1084.5 489.4V509.1M1085.5 503.3V526.0M1088.5 466.7V477.5M1089.5 467.6V482.4M1092.5 456.3V468.8M1094.5 447.4V459.3M1095.5 449.3V464.8M1096.5 452.8V472.3M1097.5 469.6V491.2M1099.5 473.8V487.3M1104.5 462.6V484.9M1105.5 479.4V489.3M1107.5 468.6V489.1M1109.5 471.3V486.3M1116.5 400.5V415.2M1119.5 384.8V407.3M1120.5 396.1V408.0M1121.5 401.3V421.1M1122.5 413.7V440.5M1123.5 433.0V449.0M1129.5 408.7V424.3M1131.5 417.9V435.4M1133.5 410.3V423.8M1134.5 419.1V430.3M1140.5 361.0V380.4M1141.5 369.4V386.8M1144.5 360.1V376.3M1145.5 369.3V387.1M1147.5 378.1V389.4M1150.5 357.8V381.3M1152.5 371.9V391.6M1153.5 383.5V405.6M1154.5 391.6V411.7M1155.5 404.6V420.7M1156.5 417.2V434.1M1158.5 424.1V440.7M1161.5 411.2V429.0M1166.5 358.5V372.7M1167.5 359.4V372.6M1169.5 364.5V376.9M1170.5 369.7V382.5M1171.5 380.3V389.5M1174.5 341.2V361.0M1175.5 354.9V368.1M1180.5 334.6V344.7M1192.5 267.3V295.5M1195.5 270.4V279.5M1196.5 276.3V290.8M1197.5 288.1V302.6M1198.5 298.6V309.6M1199.5 297.8V314.9M1203.5 304.1V326.6M1210.5 239.4V247.3M1211.5 239.8V251.2M1220.5 205.2V215.6M1221.5 211.8V221.8M1228.5 177.1V189.8M1231.5 181.5V192.2M1232.5 184.6V194.6M1233.5 193.3V203.3M1234.5 201.8V211.7M1236.5 207.5V224.1M1237.5 210.6V223.8M1238.5 207.5V220.6M1240.5 208.8V229.0M1241.5 219.3V250.7M1245.5 193.2V210.8M1247.5 204.8V221.2M1249.5 196.8V211.5M1250.5 205.3V214.8M1251.5 208.5V220.1M1252.5 216.9V228.3M1253.5 220.4V230.1M1254.5 221.3V232.4M1256.5 225.4V241.3M1258.5 228.2V247.6M1261.5 214.7V227.5M1262.5 225.5V235.9M1263.5 234.7V252.3M1264.5 250.2V269.5M1265.5 264.9V274.0M1266.5 284.0V303.6M1267.5 295.0V319.0" stroke="#f24a4a" stroke-width="1" fill="none" shape-rendering="crispEdges"/>
<path d="M43.3 535.4 L45.3 535.9 L47.3 536.5 L49.3 537.2 L51.3 537.9 L53.3 538.6 L55.3 539.2 L57.3 539.7 L59.3 540.2 L61.3 540.5 L63.3 540.5 L65.3 540.3 L67.3 539.8 L69.3 539.1 L71.3 538.3 L73.3 537.3 L75.3 536.2 L77.3 534.9 L79.3 533.5 L81.3 532.0 L83.3 530.4 L85.3 528.9 L87.3 527.4 L89.3 525.9 L91.3 524.5 L93.3 523.1 L95.3 521.7 L97.3 520.4 L99.3 519.0 L101.3 517.7 L103.3 516.3 L105.3 514.9 L107.3 513.5 L109.3 512.1 L111.3 510.7 L113.3 509.3 L115.3 507.9 L117.3 506.6 L119.3 505.4 L121.3 504.2 L123.3 503.1 L125.3 502.1 L127.3 501.1 L129.3 500.1 L131.3 499.2 L133.3 498.3 L135.3 497.5 L137.3 496.7 L139.3 495.9 L141.3 495.2 L143.3 494.4 L145.3 493.8 L147.3 493.1 L149.3 492.5 L151.3 491.9 L153.3 491.3 L155.3 490.8 L157.3 490.3 L159.3 489.9 L161.3 489.6 L163.3 489.4 L165.3 489.4 L167.3 489.4 L169.3 489.5 L171.3 489.6 L173.3 489.7 L175.3 489.7 L177.3 489.6 L179.3 489.4 L181.3 489.2 L183.3 488.8 L185.3 488.4 L187.3 488.0 L189.3 487.4 L191.3 486.7 L193.3 485.9 L195.3 485.0 L197.3 484.0 L199.3 483.0 L201.3 482.0 L203.3 481.0 L205.3 480.1 L207.3 479.1 L209.3 478.2 L211.3 477.3 L213.3 476.5 L215.3 475.6 L217.3 474.8 L219.3 474.0 L221.3 473.4 L223.3 472.8 L225.3 472.3 L227.3 471.9 L229.3 471.5 L231.3 471.2 L233.3 470.9 L235.3 470.8 L237.3 470.8 L239.3 470.9 L241.3 471.0 L243.3 471.2 L245.3 471.4 L247.3 471.7 L249.3 471.9 L251.3 472.2 L253.3 472.4 L255.3 472.7 L257.3 473.0 L259.3 473.2 L261.3 473.5 L263.3 473.8 L265.3 474.1 L267.3 474.4 L269.3 474.9 L271.3 475.3 L273.3 475.8 L275.3 476.4 L277.3 477.0 L279.3 477.7 L281.3 478.4 L283.3 479.3 L285.3 480.2 L287.3 481.2 L289.3 482.2 L291.3 483.3 L293.3 484.3 L295.3 485.4 L297.3 486.8 L299.3 488.4 L301.3 490.2 L303.3 492.2 L305.3 494.2 L307.3 496.1 L309.3 498.1 L311.3 500.1 L313.3 502.0 L315.3 503.9 L317.3 505.8 L319.3 507.6 L321.3 509.4 L323.3 511.2 L325.3 513.0 L327.3 514.8 L329.3 516.5 L331.3 518.2 L333.3 519.8 L335.3 521.2 L337.3 522.7 L339.3 524.1 L341.3 525.5 L343.3 526.9 L345.3 528.2 L347.3 529.3 L349.3 530.3 L351.3 531.1 L353.3 531.6 L355.3 532.1 L357.3 532.5 L359.3 532.8 L361.3 533.1 L363.3 533.3 L365.3 533.5 L367.3 533.7 L369.3 533.9 L371.3 534.2 L373.3 534.5 L375.3 534.7 L377.3 535.0 L379.3 535.2 L381.3 535.4 L383.3 535.6 L385.3 535.7 L387.3 535.8 L389.3 535.9 L391.3 536.0 L393.3 536.0 L395.3 535.8 L397.3 535.5 L399.3 535.0 L401.3 534.3 L403.3 533.2 L405.3 531.8 L407.3 530.2 L409.3 528.1 L411.3 525.7 L413.3 523.1 L415.3 520.1 L417.3 516.8 L419.3 513.4 L421.3 509.8 L423.3 506.3 L425.3 502.8 L427.3 499.5 L429.3 496.2 L431.3 493.0 L433.3 490.0 L435.3 487.3 L437.3 484.8 L439.3 482.5 L441.3 480.4 L443.3 478.4 L445.3 476.4 L447.3 474.5 L449.3 472.5 L451.3 470.6 L453.3 468.7 L455.3 466.9 L457.3 465.3 L459.3 464.0 L461.3 462.8 L463.3 462.0 L465.3 461.4 L467.3 460.9 L469.3 460.6 L471.3 460.4 L473.3 460.2 L475.3 460.1 L477.3 460.0 L479.3 460.0 L481.3 460.0 L483.3 460.1 L485.3 460.1 L487.3 460.2 L489.3 460.3 L491.3 460.4 L493.3 460.7 L495.3 461.1 L497.3 461.6 L499.3 462.1 L501.3 462.6 L503.3 463.1 L505.3 463.6 L507.3 464.2 L509.3 464.8 L511.3 465.4 L513.3 466.1 L515.3 466.7 L517.3 467.4 L519.3 468.0 L521.3 468.7 L523.3 469.2 L525.3 469.8 L527.3 470.3 L529.3 470.8 L531.3 471.3 L533.3 471.8 L535.3 472.2 L537.3 472.7 L539.3 473.2 L541.3 473.6 L543.3 474.0 L545.3 474.5 L547.3 475.0 L549.3 475.6 L551.3 476.2 L553.3 476.8 L555.3 477.6 L557.3 478.3 L559.3 479.0 L561.3 479.7 L563.3 480.4 L565.3 481.0 L567.3 481.6 L569.3 482.2 L571.3 482.8 L573.3 483.3 L575.3 483.7 L577.3 483.8 L579.3 483.5 L581.3 482.9 L583.3 482.1 L585.3 481.0 L587.3 480.1 L589.3 479.4 L591.3 478.8 L593.3 478.4 L595.3 478.2 L597.3 477.8 L599.3 477.3 L601.3 476.7 L603.3 475.9 L605.3 475.0 L607.3 474.1 L609.3 473.0 L611.3 471.8 L613.3 470.4 L615.3 468.9 L617.3 467.2 L619.3 465.6 L621.3 463.9 L623.3 462.3 L625.3 460.8 L627.3 459.4 L629.3 458.0 L631.3 456.7 L633.3 455.4 L635.3 454.0 L637.3 452.7 L639.3 451.3 L641.3 449.8 L643.3 448.3 L645.3 446.8 L647.3 445.3 L649.3 443.8 L651.3 442.3 L653.3 440.8 L655.3 439.3 L657.3 437.8 L659.3 436.1 L661.3 434.1 L663.3 431.8 L665.3 429.4 L667.3 426.9 L669.3 424.5 L671.3 422.2 L673.3 419.9 L675.3 417.7 L677.3 415.6 L679.3 413.6 L681.3 411.8 L683.3 410.0 L685.3 408.3 L687.3 406.7 L689.3 405.0 L691.3 403.4 L693.3 401.8 L695.3 400.2 L697.3 398.7 L699.3 397.1 L701.3 395.3 L703.3 393.3 L705.3 391.2 L707.3 388.9 L709.3 386.6 L711.3 384.3 L713.3 381.9 L715.3 379.6 L717.3 377.3 L719.3 374.9 L721.3 372.6 L723.3 370.3 L725.3 367.9 L727.3 365.7 L729.3 363.6 L731.3 361.6 L733.3 359.7 L735.3 357.9 L737.3 356.0 L739.3 354.2 L741.3 352.4 L743.3 350.7 L745.3 349.0 L747.3 347.3 L749.3 345.6 L751.3 343.9 L753.3 342.3 L755.3 340.8 L757.3 339.5 L759.3 338.3 L761.3 337.3 L763.3 336.3 L765.3 335.3 L767.3 334.3 L769.3 333.3 L771.3 332.2 L773.3 330.9 L775.3 329.3 L777.3 327.5 L779.3 325.4 L781.3 323.3 L783.3 321.2 L785.3 319.3 L787.3 317.5 L789.3 315.8 L791.3 314.0 L793.3 312.3 L795.3 310.6 L797.3 308.9 L799.3 307.1 L801.3 305.3 L803.3 303.5 L805.3 301.6 L807.3 299.8 L809.3 297.9 L811.3 296.0 L813.3 294.0 L815.3 292.0 L817.3 289.8 L819.3 287.5 L821.3 285.1 L823.3 282.7 L825.3 280.3 L827.3 277.9 L829.3 275.5 L831.3 273.1 L833.3 270.7 L835.3 268.5 L837.3 266.4 L839.3 264.5 L841.3 262.9 L843.3 261.6 L845.3 260.5 L847.3 259.7 L849.3 259.1 L851.3 258.7 L853.3 258.4 L855.3 258.2 L857.3 258.2 L859.3 258.3 L861.3 258.5 L863.3 258.9 L865.3 259.3 L867.3 259.8 L869.3 260.3 L871.3 260.9 L873.3 261.5 L875.3 262.1 L877.3 262.6 L879.3 263.0 L881.3 263.4 L883.3 263.6 L885.3 263.8 L887.3 264.1 L889.3 264.3 L891.3 264.7 L893.3 265.1 L895.3 265.6 L897.3 266.2 L899.3 266.8 L901.3 267.4 L903.3 267.9 L905.3 268.4 L907.3 268.9 L909.3 269.2 L911.3 269.7 L913.3 270.2 L915.3 270.8 L917.3 271.6 L919.3 272.5 L921.3 273.6 L923.3 274.8 L925.3 276.1 L927.3 277.4 L929.3 278.7 L931.3 280.1 L933.3 281.5 L935.3 282.9 L937.3 284.3 L939.3 285.8 L941.3 287.3 L943.3 288.8 L945.3 290.5 L947.3 292.2 L949.3 294.2 L951.3 296.2 L953.3 298.4 L955.3 300.6 L957.3 302.7 L959.3 304.8 L961.3 306.7 L963.3 308.6 L965.3 310.4 L967.3 312.2 L969.3 314.1 L971.3 316.0 L973.3 317.9 L975.3 319.8 L977.3 321.8 L979.3 323.8 L981.3 325.9 L983.3 328.1 L985.3 330.4 L987.3 332.7 L989.3 335.2 L991.3 337.7 L993.3 340.2 L995.3 342.7 L997.3 345.1 L999.3 347.5 L1001.3 349.9 L1003.3 352.2 L1005.3 354.6 L1007.3 356.9 L1009.3 359.3 L1011.3 361.8 L1013.3 364.3 L1015.3 366.9 L1017.3 369.5 L1019.3 372.1 L1021.3 374.8 L1023.3 377.5 L1025.3 380.2 L1027.3 383.0 L1029.3 385.8 L1031.3 388.6 L1033.3 391.2 L1035.3 393.6 L1037.3 396.0 L1039.3 398.2 L1041.3 400.3 L1043.3 402.5 L1045.3 404.6 L1047.3 406.6 L1049.3 408.7 L1051.3 410.7 L1053.3 412.7 L1055.3 414.5 L1057.3 416.2 L1059.3 417.9 L1061.3 419.4 L1063.3 420.9 L1065.3 422.4 L1067.3 423.9 L1069.3 425.4 L1071.3 426.9 L1073.3 428.4 L1075.3 429.9 L1077.3 431.4 L1079.3 432.9 L1081.3 434.4 L1083.3 435.9 L1085.3 437.4 L1087.3 438.9 L1089.3 440.4 L1091.3 441.9 L1093.3 443.4 L1095.3 444.8 L1097.3 446.2 L1099.3 447.5 L1101.3 448.8 L1103.3 449.9 L1105.3 450.9 L1107.3 451.8 L1109.3 452.4 L1111.3 452.7 L1113.3 452.8 L1115.3 452.6 L1117.3 452.3 L1119.3 452.0 L1121.3 451.7 L1123.3 451.5 L1125.3 451.3 L1127.3 451.1 L1129.3 451.0 L1131.3 450.7 L1133.3 450.1 L1135.3 449.3 L1137.3 448.3 L1139.3 447.0 L1141.3 445.6 L1143.3 444.2 L1145.3 442.8 L1147.3 441.4 L1149.3 440.1 L1151.3 438.8 L1153.3 437.6 L1155.3 436.5 L1157.3 435.3 L1159.3 434.2 L1161.3 433.1 L1163.3 431.8 L1165.3 430.4 L1167.3 428.9 L1169.3 427.3 L1171.3 425.5 L1173.3 423.6 L1175.3 421.6 L1177.3 419.4 L1179.3 416.9 L1181.3 414.2 L1183.3 411.1 L1185.3 407.6 L1187.3 403.9 L1189.3 400.4 L1191.3 396.9 L1193.3 393.7 L1195.3 390.8 L1197.3 388.0 L1199.3 385.1 L1201.3 382.0 L1203.3 378.9 L1205.3 375.5 L1207.3 371.9 L1209.3 368.1 L1211.3 364.0 L1213.3 359.7 L1215.3 355.1 L1217.3 350.3 L1219.3 345.2 L1221.3 339.9 L1223.3 334.5 L1225.3 329.5 L1227.3 324.9 L1229.3 320.7 L1231.3 316.9 L1233.3 313.5 L1235.3 310.2 L1237.3 307.0 L1239.3 303.8 L1241.3 300.8 L1243.3 298.0 L1245.3 295.2 L1247.3 292.5 L1249.3 289.9 L1251.3 287.5 L1253.3 285.3 L1255.3 283.2 L1257.3 281.4 L1259.3 279.9 L1261.3 278.8 L1263.3 277.8 L1265.3 277.2 L1267.3 276.8" stroke="#2962ff" stroke-width="1.6" fill="none" stroke-linejoin="round" stroke-linecap="round"/>
<path d="M15 291.5H1679" stroke="#26a69a" stroke-width="1" stroke-dasharray="1 2" fill="none" shape-rendering="crispEdges"/>
<rect x="1680" y="42" width="76" height="750" fill="#fff"/>
<path d="M1679.5 41V792M15 751.5H1757" stroke="#555555" stroke-width="1" fill="none" shape-rendering="crispEdges"/>
<text x="1693.0" y="101.6" font-size="15" fill="#50535a" font-weight="normal" text-anchor="start" textLength="48.0" lengthAdjust="spacingAndGlyphs" stroke="#50535a" stroke-width="0.38">140,00</text>
<text x="1693.0" y="145.4" font-size="15" fill="#50535a" font-weight="normal" text-anchor="start" textLength="48.0" lengthAdjust="spacingAndGlyphs" stroke="#50535a" stroke-width="0.38">100,00</text>
<text x="1693.0" y="192.5" font-size="15" fill="#50535a" font-weight="normal" text-anchor="start" textLength="39.7" lengthAdjust="spacingAndGlyphs" stroke="#50535a" stroke-width="0.38">70,00</text>
<text x="1693.0" y="236.6" font-size="15" fill="#50535a" font-weight="normal" text-anchor="start" textLength="39.7" lengthAdjust="spacingAndGlyphs" stroke="#50535a" stroke-width="0.38">50,00</text>
<text x="1693.0" y="287.6" font-size="15" fill="#50535a" font-weight="normal" text-anchor="start" textLength="39.7" lengthAdjust="spacingAndGlyphs" stroke="#50535a" stroke-width="0.38">34,00</text>
<text x="1693.0" y="333.8" font-size="15" fill="#50535a" font-weight="normal" text-anchor="start" textLength="39.7" lengthAdjust="spacingAndGlyphs" stroke="#50535a" stroke-width="0.38">24,00</text>
<text x="1693.0" y="386.5" font-size="15" fill="#50535a" font-weight="normal" text-anchor="start" textLength="39.7" lengthAdjust="spacingAndGlyphs" stroke="#50535a" stroke-width="0.38">16,00</text>
<text x="1693.0" y="435.7" font-size="15" fill="#50535a" font-weight="normal" text-anchor="start" textLength="39.7" lengthAdjust="spacingAndGlyphs" stroke="#50535a" stroke-width="0.38">11,00</text>
<text x="1693.0" y="495.6" font-size="15" fill="#50535a" font-weight="normal" text-anchor="start" textLength="31.0" lengthAdjust="spacingAndGlyphs" stroke="#50535a" stroke-width="0.38">7,00</text>
<text x="1693.0" y="539.4" font-size="15" fill="#50535a" font-weight="normal" text-anchor="start" textLength="31.0" lengthAdjust="spacingAndGlyphs" stroke="#50535a" stroke-width="0.38">5,00</text>
<text x="1693.0" y="586.3" font-size="15" fill="#50535a" font-weight="normal" text-anchor="start" textLength="31.0" lengthAdjust="spacingAndGlyphs" stroke="#50535a" stroke-width="0.38">3,50</text>
<text x="1693.0" y="630.6" font-size="15" fill="#50535a" font-weight="normal" text-anchor="start" textLength="31.0" lengthAdjust="spacingAndGlyphs" stroke="#50535a" stroke-width="0.38">2,50</text>
<text x="1693.0" y="674.0" font-size="15" fill="#50535a" font-weight="normal" text-anchor="start" textLength="31.0" lengthAdjust="spacingAndGlyphs" stroke="#50535a" stroke-width="0.38">1,80</text>
<text x="1693.0" y="716.5" font-size="15" fill="#50535a" font-weight="normal" text-anchor="start" textLength="31.0" lengthAdjust="spacingAndGlyphs" stroke="#50535a" stroke-width="0.38">1,30</text>
<path d="M1680 280H1746a2 2 0 0 1 2 2V320a2 2 0 0 1 -2 2H1680Z" fill="#26a69a"/>
<text x="1693.5" y="295.5" font-size="15.2" fill="#fff" font-weight="bold" text-anchor="start" textLength="39.5" lengthAdjust="spacingAndGlyphs">32,03</text>
<text x="1693.5" y="315.0" font-size="15.4" fill="#d4eeea" font-weight="normal" text-anchor="start" textLength="48.2" lengthAdjust="spacingAndGlyphs" stroke="#d4eeea" stroke-width="0.38">3d 12h</text>
<rect x="1685" y="46.8" width="66" height="38" rx="6" fill="#fff" stroke="#ededee" stroke-width="1"/>
<text x="1699.7" y="71.7" font-size="16.8" fill="#131722" font-weight="normal" text-anchor="start" textLength="30.3" lengthAdjust="spacingAndGlyphs" stroke="#131722" stroke-width="0.38">USD</text>
<text x="61.9" y="777.0" font-size="15.9" fill="#47474a" font-weight="bold" text-anchor="start" textLength="37.1" lengthAdjust="spacingAndGlyphs">2005</text>
<text x="176.9" y="777.0" font-size="15.9" fill="#47474a" font-weight="bold" text-anchor="start" textLength="37.1" lengthAdjust="spacingAndGlyphs">2007</text>
<text x="291.9" y="777.0" font-size="15.9" fill="#47474a" font-weight="bold" text-anchor="start" textLength="37.1" lengthAdjust="spacingAndGlyphs">2009</text>
<text x="405.9" y="777.0" font-size="15.9" fill="#47474a" font-weight="bold" text-anchor="start" textLength="37.1" lengthAdjust="spacingAndGlyphs">2011</text>
<text x="520.9" y="777.0" font-size="15.9" fill="#47474a" font-weight="bold" text-anchor="start" textLength="37.1" lengthAdjust="spacingAndGlyphs">2013</text>
<text x="635.9" y="777.0" font-size="15.9" fill="#47474a" font-weight="bold" text-anchor="start" textLength="37.1" lengthAdjust="spacingAndGlyphs">2015</text>
<text x="749.9" y="777.0" font-size="15.9" fill="#47474a" font-weight="bold" text-anchor="start" textLength="37.1" lengthAdjust="spacingAndGlyphs">2017</text>
<text x="864.9" y="777.0" font-size="15.9" fill="#47474a" font-weight="bold" text-anchor="start" textLength="37.1" lengthAdjust="spacingAndGlyphs">2019</text>
<text x="979.9" y="777.0" font-size="15.9" fill="#47474a" font-weight="bold" text-anchor="start" textLength="37.1" lengthAdjust="spacingAndGlyphs">2021</text>
<text x="1093.9" y="777.0" font-size="15.9" fill="#47474a" font-weight="bold" text-anchor="start" textLength="37.1" lengthAdjust="spacingAndGlyphs">2023</text>
<text x="1208.9" y="777.0" font-size="15.9" fill="#47474a" font-weight="bold" text-anchor="start" textLength="37.1" lengthAdjust="spacingAndGlyphs">2025</text>
<text x="1322.9" y="777.0" font-size="15.9" fill="#47474a" font-weight="bold" text-anchor="start" textLength="37.1" lengthAdjust="spacingAndGlyphs">2027</text>
<text x="1437.9" y="777.0" font-size="15.9" fill="#47474a" font-weight="bold" text-anchor="start" textLength="37.1" lengthAdjust="spacingAndGlyphs">2029</text>
<text x="1552.9" y="777.0" font-size="15.9" fill="#47474a" font-weight="bold" text-anchor="start" textLength="37.1" lengthAdjust="spacingAndGlyphs">2031</text>
<circle cx="1268.4" cy="731.3" r="16.6" fill="#fff"/>
<circle cx="1268.4" cy="731.3" r="14.7" fill="#fff" stroke="#9c27b0" stroke-width="1.6"/>
<path d="M1273.2 722.8L1261.6 733.2H1268.2L1264.6 740.6L1275.6 730H1269.4Z" fill="#9c27b0"/>
<circle cx="1278.9" cy="721.1" r="5.3" fill="#fff"/>
<circle cx="1278.9" cy="721.1" r="3.8" fill="#f23645"/>
<text y="28.6" font-size="16.8"><tspan x="15.9" textLength="41.1" lengthAdjust="spacingAndGlyphs" fill="#131722" font-weight="normal" stroke="#131722" stroke-width="0.38">jbasa</tspan> <tspan x="63.4" textLength="54.4" lengthAdjust="spacingAndGlyphs" fill="#131722" font-weight="normal" stroke="#131722" stroke-width="0.38">creado</tspan> <tspan x="123.8" textLength="26.8" lengthAdjust="spacingAndGlyphs" fill="#131722" font-weight="normal" stroke="#131722" stroke-width="0.38">con</tspan> <tspan x="157.7" textLength="140.7" lengthAdjust="spacingAndGlyphs" fill="#131722" font-weight="normal" stroke="#131722" stroke-width="0.38">TradingView.com,</tspan> <tspan x="305.6" textLength="13.7" lengthAdjust="spacingAndGlyphs" fill="#131722" font-weight="normal" stroke="#131722" stroke-width="0.38">el</tspan> <tspan x="326.6" textLength="26.7" lengthAdjust="spacingAndGlyphs" fill="#131722" font-weight="normal" stroke="#131722" stroke-width="0.38">Sep</tspan> <tspan x="360.4" textLength="23.0" lengthAdjust="spacingAndGlyphs" fill="#131722" font-weight="normal" stroke="#131722" stroke-width="0.38">23,</tspan> <tspan x="390.9" textLength="36.6" lengthAdjust="spacingAndGlyphs" fill="#131722" font-weight="normal" stroke="#131722" stroke-width="0.38">2025</tspan> <tspan x="435.1" textLength="41.9" lengthAdjust="spacingAndGlyphs" fill="#131722" font-weight="normal" stroke="#131722" stroke-width="0.38">10:08</tspan> <tspan x="483.6" textLength="50.6" lengthAdjust="spacingAndGlyphs" fill="#131722" font-weight="normal" stroke="#131722" stroke-width="0.38">UTC+2</tspan></text>
<text y="69.8" font-size="17"><tspan x="27.1" textLength="47.9" lengthAdjust="spacingAndGlyphs" fill="#4d5058" font-weight="normal" stroke="#4d5058" stroke-width="0.38">Grupo</tspan> <tspan x="81.8" textLength="82.9" lengthAdjust="spacingAndGlyphs" fill="#4d5058" font-weight="normal" stroke="#4d5058" stroke-width="0.38">Financiero</tspan> <tspan x="171.2" textLength="54.4" lengthAdjust="spacingAndGlyphs" fill="#4d5058" font-weight="normal" stroke="#4d5058" stroke-width="0.38">Galicia</tspan> <tspan x="232.1" textLength="19.0" lengthAdjust="spacingAndGlyphs" fill="#4d5058" font-weight="normal" stroke="#4d5058" stroke-width="0.38">SA</tspan> <tspan x="257.0" textLength="80.4" lengthAdjust="spacingAndGlyphs" fill="#4d5058" font-weight="normal" stroke="#4d5058" stroke-width="0.38">Sponsored</tspan> <tspan x="344.5" textLength="31.0" lengthAdjust="spacingAndGlyphs" fill="#4d5058" font-weight="normal" stroke="#4d5058" stroke-width="0.38">ADR</tspan> <tspan x="382.3" textLength="38.4" lengthAdjust="spacingAndGlyphs" fill="#4d5058" font-weight="normal" stroke="#4d5058" stroke-width="0.38">Class</tspan> <tspan x="428.0" textLength="7.9" lengthAdjust="spacingAndGlyphs" fill="#4d5058" font-weight="normal" stroke="#4d5058" stroke-width="0.38">B</tspan> <tspan x="442.9" fill="#4d5058" font-weight="bold">·</tspan> <tspan x="456.8" textLength="15.2" lengthAdjust="spacingAndGlyphs" fill="#4d5058" font-weight="normal" stroke="#4d5058" stroke-width="0.38">1S</tspan> <tspan x="478.5" fill="#4d5058" font-weight="bold">·</tspan> <tspan x="491.0" textLength="63.1" lengthAdjust="spacingAndGlyphs" fill="#4d5058" font-weight="normal" stroke="#4d5058" stroke-width="0.38">NASDAQ</tspan>  <tspan x="565.9" textLength="11.4" lengthAdjust="spacingAndGlyphs" fill="#4d5058" font-weight="normal" stroke="#4d5058" stroke-width="0.38">O</tspan><tspan x="579.3" textLength="41.5" lengthAdjust="spacingAndGlyphs" fill="#26a69a" font-weight="normal" stroke="#26a69a" stroke-width="0.38">31,12</tspan>  <tspan x="634.2" textLength="9.4" lengthAdjust="spacingAndGlyphs" fill="#4d5058" font-weight="normal" stroke="#4d5058" stroke-width="0.38">H</tspan><tspan x="646.0" textLength="42.0" lengthAdjust="spacingAndGlyphs" fill="#26a69a" font-weight="normal" stroke="#26a69a" stroke-width="0.38">32,32</tspan>  <tspan x="701.0" textLength="8.1" lengthAdjust="spacingAndGlyphs" fill="#4d5058" font-weight="normal" stroke="#4d5058" stroke-width="0.38">L</tspan><tspan x="710.5" textLength="42.2" lengthAdjust="spacingAndGlyphs" fill="#26a69a" font-weight="normal" stroke="#26a69a" stroke-width="0.38">29,56</tspan>  <tspan x="764.7" textLength="9.3" lengthAdjust="spacingAndGlyphs" fill="#4d5058" font-weight="normal" stroke="#4d5058" stroke-width="0.38">C</tspan><tspan x="776.1" textLength="41.9" lengthAdjust="spacingAndGlyphs" fill="#26a69a" font-weight="normal" stroke="#26a69a" stroke-width="0.38">32,03</tspan>  <tspan x="831.1" textLength="42.4" lengthAdjust="spacingAndGlyphs" fill="#26a69a" font-weight="normal" stroke="#26a69a" stroke-width="0.38">+5,58</tspan> <tspan x="881.6" textLength="75.5" lengthAdjust="spacingAndGlyphs" fill="#26a69a" font-weight="normal" stroke="#26a69a" stroke-width="0.38">(+21,10%)</tspan></text>
<text y="95.5" font-size="17"><tspan x="27.5" textLength="28.7" lengthAdjust="spacingAndGlyphs" fill="#4d5058" font-weight="normal" stroke="#4d5058" stroke-width="0.38">Vol.</tspan>  <tspan x="69.8" textLength="33.1" lengthAdjust="spacingAndGlyphs" fill="#26a69a" font-weight="normal" stroke="#26a69a" stroke-width="0.38">7,25</tspan> <tspan x="106.9" textLength="12.3" lengthAdjust="spacingAndGlyphs" fill="#26a69a" font-weight="normal" stroke="#26a69a" stroke-width="0.38">M</tspan></text>
<text y="121.8" font-size="17"><tspan x="27.5" textLength="28.7" lengthAdjust="spacingAndGlyphs" fill="#4d5058" font-weight="normal" stroke="#4d5058" stroke-width="0.38">Vol.</tspan>  <tspan x="69.8" textLength="33.1" lengthAdjust="spacingAndGlyphs" fill="#26a69a" font-weight="normal" stroke="#26a69a" stroke-width="0.38">7,25</tspan> <tspan x="106.9" textLength="12.3" lengthAdjust="spacingAndGlyphs" fill="#26a69a" font-weight="normal" stroke="#26a69a" stroke-width="0.38">M</tspan></text>
<text y="147.7" font-size="17"><tspan x="27.5" textLength="37.4" lengthAdjust="spacingAndGlyphs" fill="#4d5058" font-weight="normal" stroke="#4d5058" stroke-width="0.38">WMA</tspan> <tspan x="72.5" textLength="38.0" lengthAdjust="spacingAndGlyphs" fill="#4d5058" font-weight="normal" stroke="#4d5058" stroke-width="0.38">(200,</tspan> <tspan x="118.2" textLength="46.4" lengthAdjust="spacingAndGlyphs" fill="#4d5058" font-weight="normal" stroke="#4d5058" stroke-width="0.38">close)</tspan>  <tspan x="177.2" textLength="41.7" lengthAdjust="spacingAndGlyphs" fill="#2962ff" font-weight="normal" stroke="#2962ff" stroke-width="0.38">35,71</tspan></text>
<path d="M18.1 826H36.1V848.5H27.2V834.8H18.1Z" fill="#131313"/>
<circle cx="43.5" cy="830.4" r="4.6" fill="#131313"/>
<path d="M53.3 826H62.6L54 848.5H44Z" fill="#131313"/>
<text y="848.6" font-size="31.4" font-weight="bold" fill="#131313"><tspan x="73.4" textLength="108.5" lengthAdjust="spacingAndGlyphs">Trading</tspan><tspan x="182.2" textLength="72.5" lengthAdjust="spacingAndGlyphs">View</tspan></text>
</svg>
</body></html>
